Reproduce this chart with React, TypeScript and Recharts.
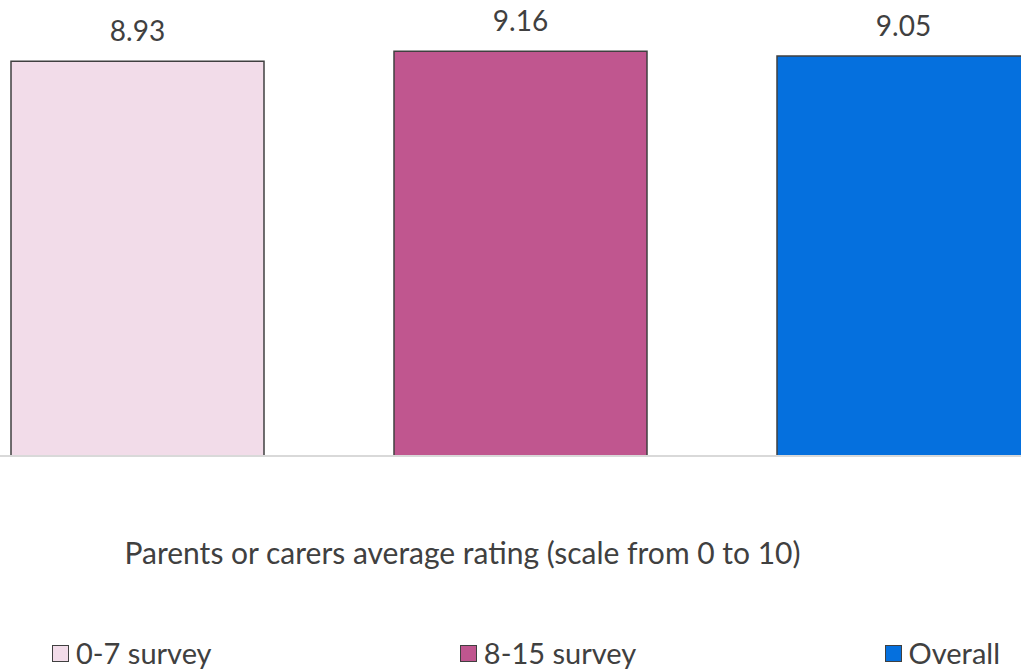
import React from "react";
import { BarChart, Bar, XAxis, YAxis, Legend, LabelList } from "recharts";

const categories = ["Parents or carers average rating (scale from 0 to 10)"];
const seriesNames = ["0-7 survey", "8-15 survey", "Overall"];
const surveyAges0to7 = [8.93];
const surveyAges8to15 = [9.16];
const overall = [9.05];

const colors = ["#F2DCE9", "#C0568F", "#0570DE"];
const keys = ["s0", "s1", "s2"];
const FONT = "Lato, 'Noto Sans', sans-serif";
const TEXT = "#404040";

const data = categories.map((name, i) => ({
  name,
  s0: surveyAges0to7[i],
  s1: surveyAges8to15[i],
  s2: overall[i],
}));

const CategoryTick = ({ x, y, payload }: any) => (
  <text
    x={x - 58}
    y={y + 100}
    textAnchor="middle"
    fill={TEXT}
    fontSize={30}
    fontFamily={FONT}
  >
    {payload.value}
  </text>
);

const LegendContent = () => (
  <div
    style={{
      height: 64,
      width: 1021,
      display: "flex",
      justifyContent: "space-between",
      alignItems: "flex-end",
      boxSizing: "border-box",
      paddingLeft: 52,
      paddingRight: 21,
      fontFamily: FONT,
      fontSize: 29,
      color: TEXT,
    }}
  >
    {seriesNames.map((n, i) => (
      <div key={n} style={{ display: "flex", alignItems: "center", lineHeight: "34px" }}>
        <span
          style={{
            display: "inline-block",
            width: 15,
            height: 15,
            background: colors[i],
            border: "1.5px solid #404040",
            marginRight: 7,
          }}
        />
        {n}
      </div>
    ))}
  </div>
);

export default function App() {
  return (
    <div
      style={{
        position: "absolute",
        left: 0,
        top: 0,
        width: 1021,
        height: 670,
        overflow: "hidden",
        background: "#fff",
      }}
    >
      <BarChart
        width={1041}
        height={670}
        data={data}
        margin={{ top: 14, right: 0, left: 0, bottom: 0 }}
        barSize={253}
        barGap={130}
      >
        <XAxis
          dataKey="name"
          tickLine={false}
          axisLine={{ stroke: "#D9D9D9", strokeWidth: 2 }}
          height={150}
          tick={<CategoryTick />}
          interval={0}
        />
        <YAxis hide domain={[0, 10]} />
        <Legend
          verticalAlign="bottom"
          content={<LegendContent />}
          wrapperStyle={{ left: 0, width: 1021 }}
        />
        {keys.map((k, i) => (
          <Bar
            key={k}
            dataKey={k}
            name={seriesNames[i]}
            fill={colors[i]}
            stroke="#404040"
            strokeWidth={1.5}
            isAnimationActive={false}
          >
            <LabelList
              dataKey={k}
              position="top"
              offset={20}
              fill={TEXT}
              fontSize={28}
              fontFamily={FONT}
              formatter={(v: number) => v.toFixed(2)}
            />
          </Bar>
        ))}
      </BarChart>
    </div>
  );
}
